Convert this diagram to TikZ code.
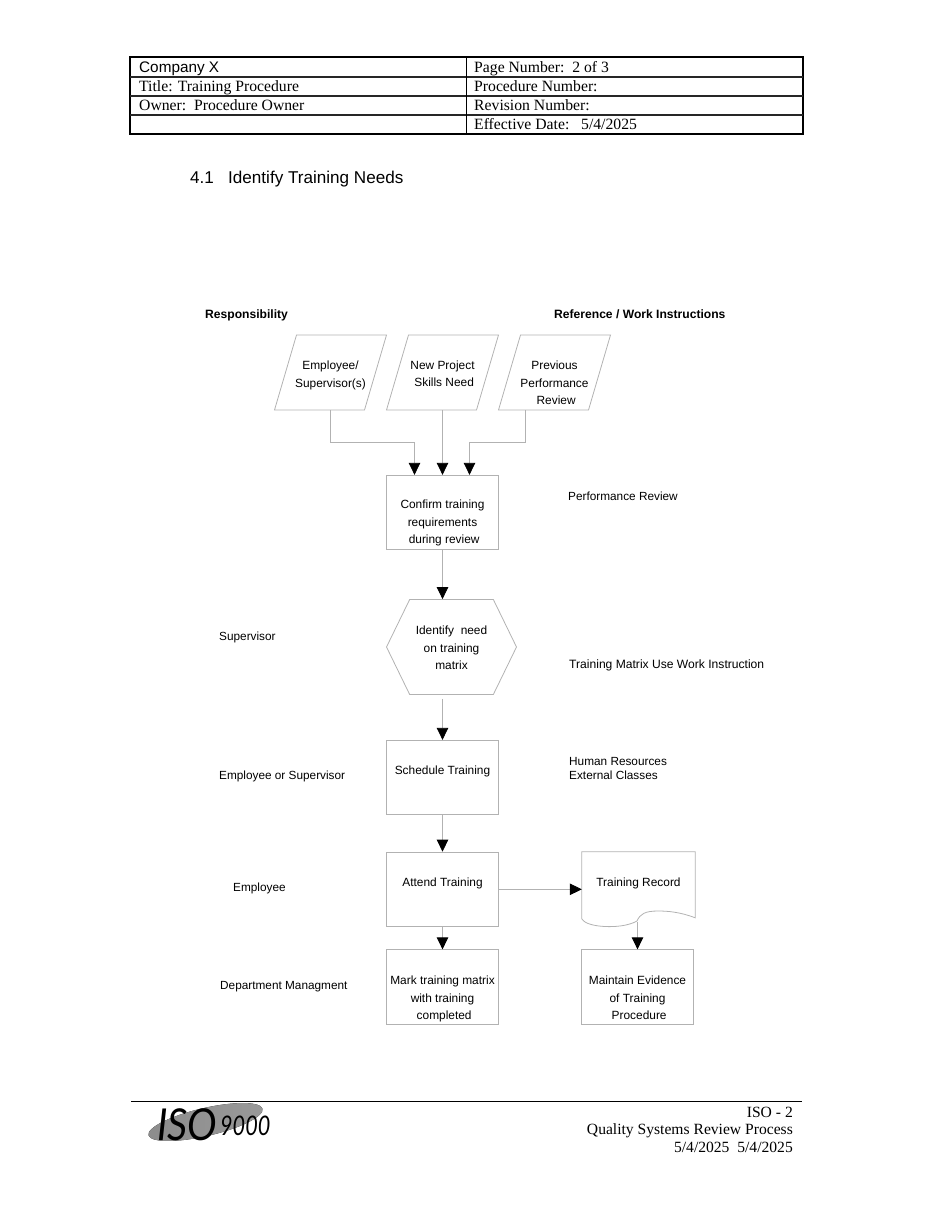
\documentclass[tikz,border=0pt]{standalone}
\usepackage{fontspec}
\setmainfont{Liberation Serif}
\setsansfont{Liberation Sans}
\newfontfamily\logofont{Lato}
\usetikzlibrary{arrows.meta,calc,shapes.symbols}

\tikzset{
	flow/.style={draw=black!30, line width=0.8pt, -{Triangle[length=12pt, width=11.5pt, color=black]}},
	outline/.style={draw=black!30, line width=0.8pt},
	chart/.style={font=\sffamily\fontsize{11.9}{17.5}\selectfont, align=center, inner sep=0pt},
	stepbox/.style={chart, outline, minimum width=111.5pt, minimum height=74.5pt},
	paper/.style={chart, minimum width=68pt, minimum height=75pt},
	side/.style={font=\sffamily\fontsize{11.8}{14}\selectfont, align=left, anchor=base west, inner sep=0pt},
	cell/.style={font=\fontsize{15.7}{18}\selectfont, anchor=base west, inner sep=0pt},
	foot/.style={font=\fontsize{15.6}{18}\selectfont, anchor=base east, inner sep=0pt}
}

\begin{document}
\begin{tikzpicture}[x=1pt, y=-1pt]
	\useasboundingbox (0, 0) rectangle (950, 1230);

	\draw[line width=2.8pt] (130, 57) rectangle (803, 134);
	\foreach \rowy in {77, 96, 115}
		\draw[line width=1.6pt, black!85] (130, \rowy) -- (803, \rowy);
	\draw[line width=1pt] (466, 57) -- (466, 134);
	\node[cell, font=\sffamily\fontsize{15.3}{18}\selectfont] (company) at (139, 73) {Company X};
	\node[cell] (title) at (139, 92) {Title: Training Procedure};
	\node[cell] (owner) at (139, 111) {Owner:\ \ Procedure Owner};
	\node[cell] (pagenum) at (474, 73) {Page Number:\ \ 2 of 3};
	\node[cell] (procnum) at (474, 92) {Procedure Number:};
	\node[cell] (revnum) at (474, 111) {Revision Number:};
	\node[cell] (effdate) at (474, 130) {Effective Date:\ \ \ 5/4/2025};

	\node[cell, font=\sffamily\fontsize{17.1}{18}\selectfont] (heading) at (190, 184) {4.1\ \ \ Identify Training Needs};

	\node[side, font=\sffamily\bfseries\fontsize{12.1}{14}\selectfont] (resp) at (205, 318.5) {Responsibility};
	\node[side, font=\sffamily\bfseries\fontsize{12.1}{14}\selectfont] (refs) at (554, 318.5) {Reference / Work Instructions};

	\node[paper] (empl) at (330.5, 372.5) {\mbox{}\\[-3pt]Employee/\\Supervisor(s)};
	\node[paper] (skills) at (442.5, 372.5) {\mbox{}\\[-6pt]New Project\\~Skills Need};
	\node[paper] (prev) at (554.5, 372.5) {\mbox{}\\[12pt]Previous\\Performance\\~Review};
	\foreach \para in {empl, skills, prev}
		\draw[outline] ($(\para)+(-56, 37.5)$) -- ($(\para)+(-34, -37.5)$) -- ($(\para)+(56, -37.5)$) -- ($(\para)+(34, 37.5)$) -- cycle;

	\node[stepbox] (conf) at (442.5, 512.5) {\mbox{}\\[12pt]Confirm training\\requirements\\~during review};
	\node[signal, signal to=west and east, signal pointer angle=128, chart, outline, minimum width=130pt, minimum height=95pt] (need) at (451.5, 647) {\mbox{}\\[-7pt]Identify\ \ need\ \\on training~\\matrix~};
	\node[stepbox] (sched) at (442.5, 777.5) {Schedule Training\\[-3pt]\mbox{}};
	\node[stepbox] (attend) at (442.5, 889.3) {Attend Training\\[-3pt]\mbox{}};
	\node[stepbox] (mark) at (442.5, 987) {\mbox{}\\[15pt]Mark training matrix\\with training\\~completed};
	\node[chart, minimum width=113pt, minimum height=70pt] (record) at (638.5, 887) {Training Record\\[-7pt]\mbox{}};
	\draw[outline] (record.south west) ++(0, -3) -- (record.north west) -- (record.north east) -- ++(0, 66)
		.. controls (680, 912) and (668, 911) .. (658, 911)
		.. controls (645, 911) and (640, 914) .. (637, 921)
		.. controls (628, 926) and (615, 927) .. (605, 926.5)
		.. controls (595, 926) and (585, 924) .. (582, 919);
	\node[stepbox] (keep) at (637.5, 987) {\mbox{}\\[13pt]Maintain Evidence\\of Training\\~Procedure};

	\coordinate (prevout) at ($(prev.south)+(-29, 0)$);
	\coordinate (confl) at ($(conf.north)+(-28, 0)$);
	\coordinate (confr) at ($(conf.north)+(27, 0)$);
	\draw[flow] (empl.south) -- ++(0, 32) -| (confl);
	\draw[flow] (skills.south) -- (conf.north);
	\draw[flow] (prevout) -- ++(0, 32) -| (confr);
	\draw[flow] (conf.south) -- (need.north -| conf.south);
	\draw[flow, shorten <=4pt] (need.south -| sched.north) -- (sched.north);
	\draw[flow] (sched.south) -- (attend.north);
	\draw[flow] (attend.south) -- (mark.north);
	\draw[flow] (attend.east) -- (record.west |- attend.east);
	\draw[flow] (record.south -| keep.north) -- (keep.north);

	\node[side] (perf) at (568, 500.5) {Performance Review};
	\node[side, font=\sffamily\fontsize{12.1}{14}\selectfont] (matrixdoc) at (569, 668.5) {Training Matrix Use Work Instruction};
	\node[side, anchor=west] (classes) at (569, 768) {Human Resources\\External Classes};
	\node[side] (sup) at (219, 640) {Supervisor};
	\node[side] (emplsup) at (219, 779.5) {Employee or Supervisor};
	\node[side] (emp) at (233, 891.5) {Employee};
	\node[side] (dept) at (220, 989.5) {Department Managment};

	\draw[line width=1pt] (131, 1101) -- (802, 1101);
	\fill[rotate around={13:(205.5, 1122)}, left color=black!45, middle color=black!15, right color=black!40] (205.5, 1122) ellipse [x radius=58.5, y radius=14];
	\node[inner sep=0pt, anchor=base west, font=\logofont\itshape\fontsize{44}{44}\selectfont] (iso) at (157, 1140) {\scalebox{0.9}[1]{ISO}};
	\node[inner sep=0pt, anchor=base west, font=\logofont\itshape\fontsize{27}{27}\selectfont] (nine) at (220, 1135) {\scalebox{0.8}[1]{9000}};
	\node[foot] (footA) at (793, 1117) {ISO - 2};
	\node[foot] (footB) at (793, 1134) {Quality Systems Review Process};
	\node[foot] (footC) at (793, 1152) {5/4/2025\ \ 5/4/2025};
\end{tikzpicture}
\end{document}
